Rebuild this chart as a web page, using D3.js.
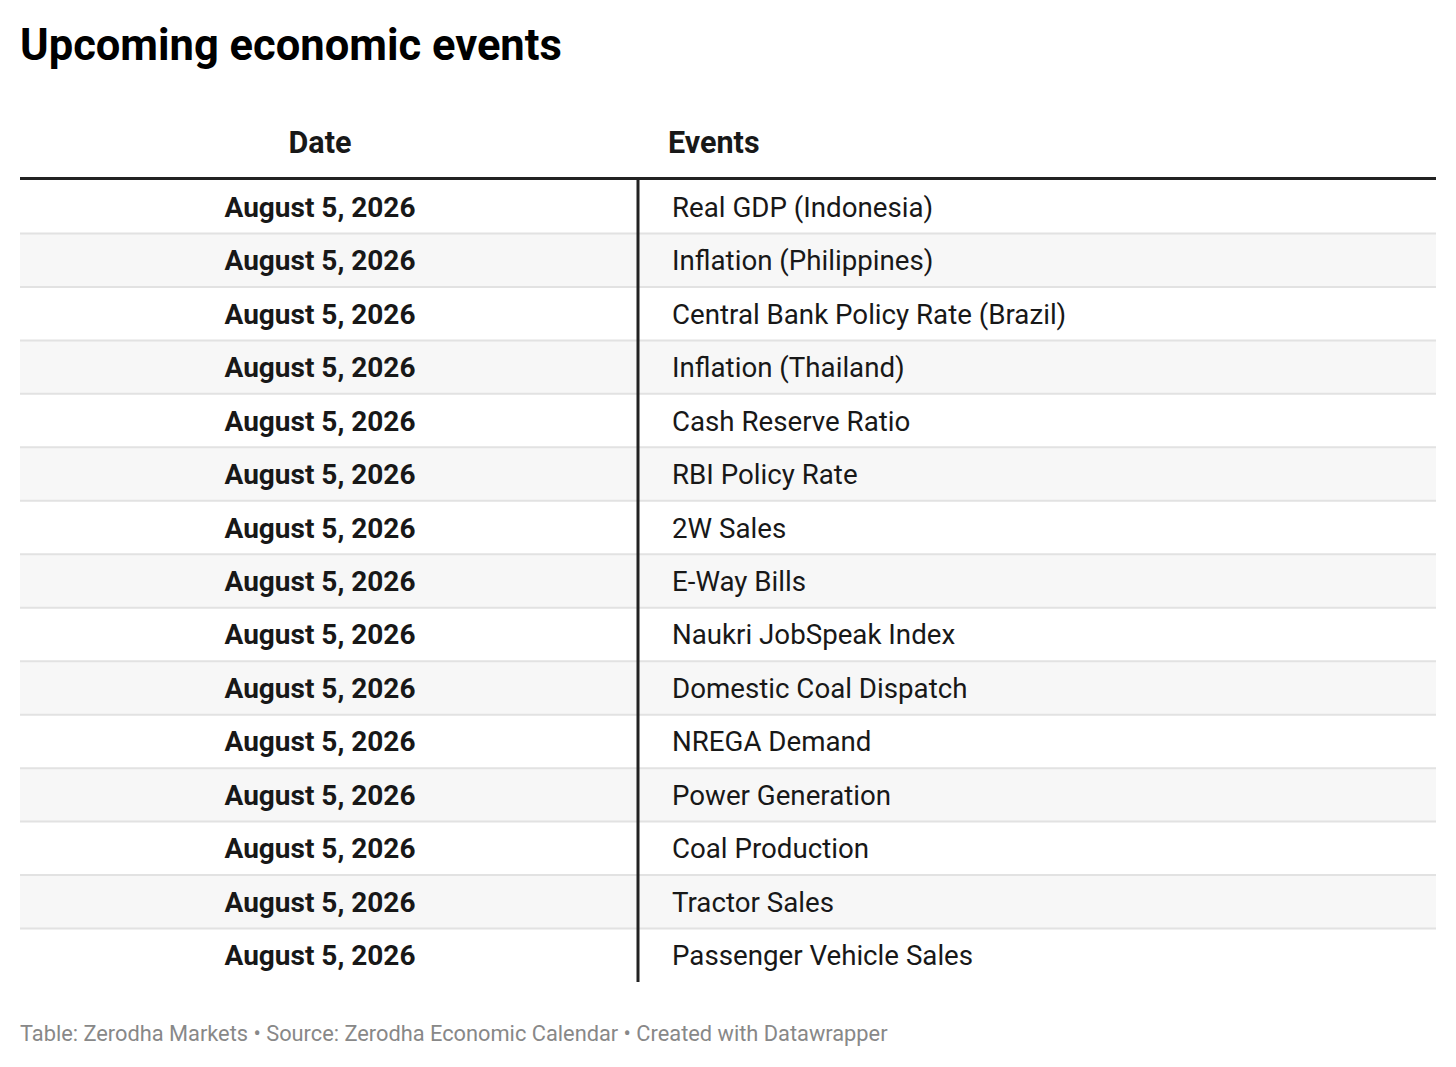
<!DOCTYPE html>
<html>
<head>
<meta charset="utf-8">
<script src="https://cdn.jsdelivr.net/npm/d3@7"></script>
<style>
  body { margin: 0; background: #fff; }
  text { font-family: Roboto, "Noto Sans", sans-serif; }
</style>
</head>
<body>
<div id="chart"></div>
<script>
// table data
const columns = ["Date", "Events"];
const dates = [
  "August 5, 2026", "August 5, 2026", "August 5, 2026", "August 5, 2026", "August 5, 2026",
  "August 5, 2026", "August 5, 2026", "August 5, 2026", "August 5, 2026", "August 5, 2026",
  "August 5, 2026", "August 5, 2026", "August 5, 2026", "August 5, 2026", "August 5, 2026"
];
const events = [
  "Real GDP (Indonesia)",
  "Inflation (Philippines)",
  "Central Bank Policy Rate (Brazil)",
  "Inflation (Thailand)",
  "Cash Reserve Ratio",
  "RBI Policy Rate",
  "2W Sales",
  "E-Way Bills",
  "Naukri JobSpeak Index",
  "Domestic Coal Dispatch",
  "NREGA Demand",
  "Power Generation",
  "Coal Production",
  "Tractor Sales",
  "Passenger Vehicle Sales"
];

const W = 1456, H = 1067;
const left = 20, right = 1436, divX = 638;
const tableTop = 180, tableBottom = 982;

const svg = d3.select("#chart").append("svg")
  .attr("width", W)
  .attr("height", H);

svg.append("text")
  .attr("x", 20)
  .attr("y", 60)
  .attr("font-size", 43.5)
  .attr("font-weight", 700)
  .attr("fill", "#000")
  .text("Upcoming economic events");

const y = d3.scaleBand()
  .domain(d3.range(events.length))
  .range([tableTop, tableBottom]);

// header
svg.append("text")
  .attr("x", 320)
  .attr("y", 153)
  .attr("text-anchor", "middle")
  .attr("font-size", 30.5)
  .attr("font-weight", 700)
  .attr("fill", "#181818")
  .text(columns[0]);
svg.append("text")
  .attr("x", 668)
  .attr("y", 153)
  .attr("font-size", 30.5)
  .attr("font-weight", 700)
  .attr("fill", "#181818")
  .text(columns[1]);

const rows = svg.append("g").selectAll("g")
  .data(events)
  .join("g")
  .attr("transform", (d, i) => `translate(0,${y(i)})`);

rows.append("rect")
  .attr("x", left)
  .attr("width", right - left)
  .attr("height", y.bandwidth())
  .attr("fill", (d, i) => i % 2 ? "#f7f7f7" : "#fff");

rows.filter((d, i) => i > 0).append("line")
  .attr("x1", left).attr("x2", right)
  .attr("y1", 0).attr("y2", 0)
  .attr("stroke", "#e2e2e2")
  .attr("stroke-width", 2);

rows.append("text")
  .attr("x", 320)
  .attr("y", y.bandwidth() / 2 + 10)
  .attr("text-anchor", "middle")
  .attr("font-size", 28)
  .attr("font-weight", 700)
  .attr("fill", "#181818")
  .text((d, i) => dates[i]);

rows.append("text")
  .attr("x", 672)
  .attr("y", y.bandwidth() / 2 + 10)
  .attr("font-size", 27.7)
  .attr("fill", "#181818")
  .text(d => d);

// header rule
svg.append("line")
  .attr("x1", left).attr("x2", right)
  .attr("y1", tableTop - 1.5).attr("y2", tableTop - 1.5)
  .attr("stroke", "#222")
  .attr("stroke-width", 3);

// column divider
svg.append("line")
  .attr("x1", divX).attr("x2", divX)
  .attr("y1", tableTop).attr("y2", tableBottom)
  .attr("stroke", "#222")
  .attr("stroke-width", 3);

svg.append("text")
  .attr("x", 20)
  .attr("y", 1041)
  .attr("font-size", 21.8)
  .attr("fill", "#888")
  .text("Table: Zerodha Markets • Source: Zerodha Economic Calendar • Created with Datawrapper");
</script>
</body>
</html>
